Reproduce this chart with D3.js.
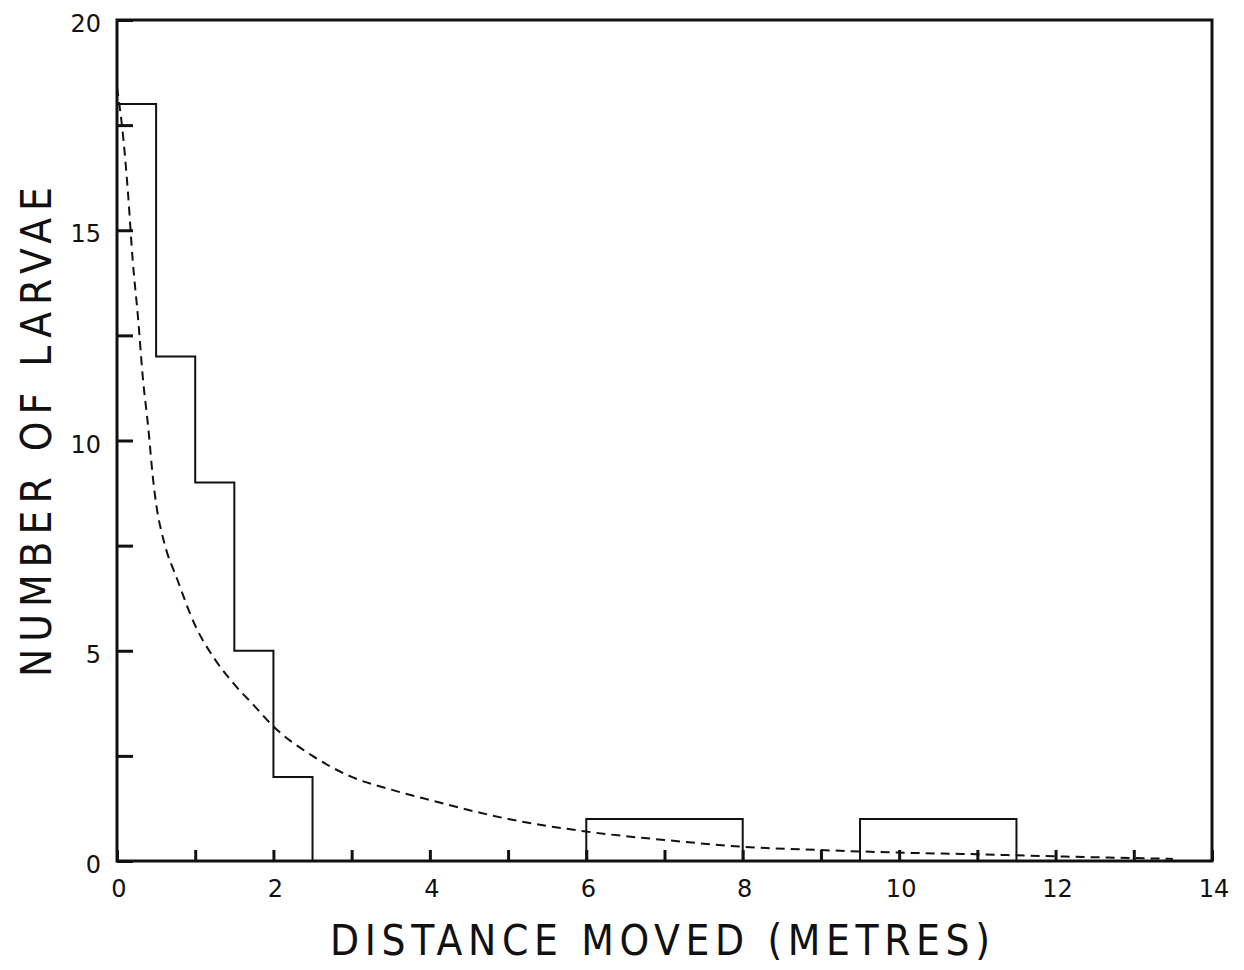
<!DOCTYPE html>
<html>
<head>
<meta charset="utf-8">
<script src="https://cdn.jsdelivr.net/npm/d3@7"></script>
<style>
  body { margin: 0; background: #fff; }
  text { font-family: "DejaVu Sans", sans-serif; fill: #111; }
  .title { font-family: "DejaVu Sans Condensed", "DejaVu Sans", sans-serif; }
</style>
</head>
<body>
<div id="chart"></div>
<script>
// histogram bins (metres) and counts of larvae
var binStart = [0, 0.5, 1, 1.5, 2, 6, 9.5];
var binEnd   = [0.5, 1, 1.5, 2, 2.5, 8, 11.5];
var binCount = [18, 12, 9, 5, 2, 1, 1];

// fitted curve
var curveX = [0, 0.08, 0.14, 0.2, 0.27, 0.33, 0.4, 0.46, 0.5, 0.6, 0.77, 1, 1.25, 1.5, 1.75, 2, 2.5, 3, 3.5, 4, 5, 6, 7, 8, 9, 10, 11, 12, 13, 13.5];
var curveY = [18.4, 17.2, 15.9, 14.3, 12.9, 11.5, 10.3, 9.1, 8.5, 7.6, 6.7, 5.6, 4.8, 4.2, 3.7, 3.2, 2.5, 2.0, 1.7, 1.45, 1.0, 0.7, 0.5, 0.34, 0.26, 0.2, 0.16, 0.11, 0.07, 0.05];

var xTicks = [0, 1, 2, 3, 4, 5, 6, 7, 8, 9, 10, 11, 12, 13, 14];
var xLabels = [0, 2, 4, 6, 8, 10, 12, 14];
var yTicks = [0, 2.5, 5, 7.5, 10, 12.5, 15, 17.5, 20];
var yLabels = [0, 5, 10, 15, 20];

var W = 1244, H = 970,
    margin = { top: 20, right: 32, bottom: 109, left: 117 },
    width = W - margin.left - margin.right,
    height = H - margin.top - margin.bottom;

var svg = d3.select("#chart").append("svg")
    .attr("width", W)
    .attr("height", H);

var g = svg.append("g")
    .attr("transform", "translate(" + margin.left + "," + margin.top + ")");

var x = d3.scaleLinear().domain([0, 14]).range([0, width]);
var y = d3.scaleLinear().domain([0, 20]).range([height, 0]);

// group touching bins so the histogram is drawn as a staircase outline
var groups = [];
binCount.forEach(function (c, i) {
    var last = groups[groups.length - 1];
    var bin = { x0: binStart[i], x1: binEnd[i], n: c };
    if (last && last[last.length - 1].x1 === bin.x0) last.push(bin);
    else groups.push([bin]);
});

var outline = function (grp) {
    var p = d3.path();
    p.moveTo(x(grp[0].x0), y(0));
    grp.forEach(function (b) {
        p.lineTo(x(b.x0), y(b.n));
        p.lineTo(x(b.x1), y(b.n));
    });
    p.lineTo(x(grp[grp.length - 1].x1), y(0));
    return p.toString();
};

g.selectAll(".bar")
    .data(groups)
    .enter().append("path")
    .attr("class", "bar")
    .attr("d", outline)
    .attr("fill", "none")
    .attr("stroke", "#111")
    .attr("stroke-width", 2);

// dashed curve
var pts = curveX.map(function (v, i) { return [v, curveY[i]]; });
var line = d3.line()
    .x(function (d) { return x(d[0]); })
    .y(function (d) { return y(d[1]); })
    .curve(d3.curveMonotoneX);

g.append("path")
    .datum(pts)
    .attr("d", line)
    .attr("fill", "none")
    .attr("stroke", "#111")
    .attr("stroke-width", 2)
    .attr("stroke-dasharray", "9,6");

// inward ticks
g.append("g")
    .attr("transform", "translate(0," + height + ")")
    .call(d3.axisTop(x).tickValues(xTicks).tickSize(11).tickFormat(""))
    .call(function (s) { s.select(".domain").remove(); })
    .selectAll("line").attr("stroke", "#111").attr("stroke-width", 3);

g.append("g")
    .call(d3.axisRight(y).tickValues(yTicks).tickSize(16).tickFormat(""))
    .call(function (s) { s.select(".domain").remove(); })
    .selectAll("line").attr("stroke", "#111").attr("stroke-width", 3);

// frame
g.append("rect")
    .attr("width", width)
    .attr("height", height)
    .attr("fill", "none")
    .attr("stroke", "#111")
    .attr("stroke-width", 3);

// tick labels
g.selectAll(".xlab")
    .data(xLabels)
    .enter().append("text")
    .attr("class", "xlab")
    .attr("x", function (d) { return x(d) + 2; })
    .attr("y", height + 36)
    .attr("text-anchor", "middle")
    .style("font-size", "24px")
    .text(function (d) { return d; });

g.selectAll(".ylab")
    .data(yLabels)
    .enter().append("text")
    .attr("class", "ylab")
    .attr("x", -16)
    .attr("y", function (d) { return y(d) + 12; })
    .attr("text-anchor", "end")
    .style("font-size", "24px")
    .text(function (d) { return d; });

// axis titles
svg.append("text")
    .attr("class", "title")
    .attr("x", 660)
    .attr("y", 955)
    .attr("text-anchor", "middle")
    .attr("textLength", 660)
    .attr("lengthAdjust", "spacing")
    .style("font-size", "42px")
    .text("DISTANCE MOVED (METRES)");

svg.append("text")
    .attr("class", "title")
    .attr("transform", "translate(51,432) rotate(-90)")
    .attr("text-anchor", "middle")
    .attr("textLength", 490)
    .attr("lengthAdjust", "spacing")
    .style("font-size", "42px")
    .text("NUMBER OF LARVAE");
</script>
</body>
</html>
